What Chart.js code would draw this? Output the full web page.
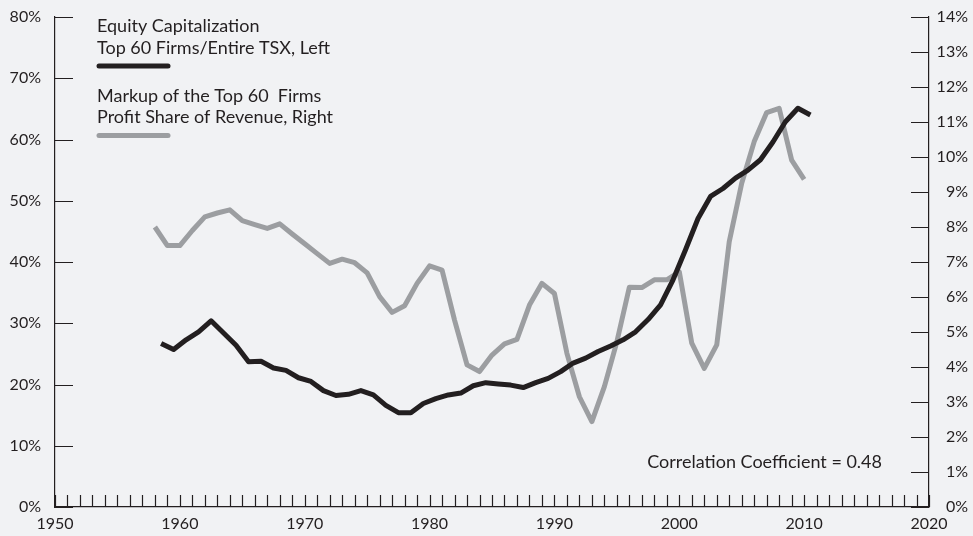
<!DOCTYPE html>
<html lang="en">
<head>
  <meta charset="UTF-8">
  <title>Equity Capitalization and Markup of the Top 60 Firms</title>
  <script src="https://cdn.jsdelivr.net/npm/chart.js"></script>
  <style>
    html, body { margin: 0; padding: 0; background: #f1f2f4; }
    #wrap { width: 973px; height: 536px; position: relative; }
  </style>
</head>
<body>
  <div id="wrap"><canvas id="chart"></canvas></div>

  <script>
    // years of the two series
    const years = [
      1958, 1959, 1960, 1961, 1962, 1963, 1964, 1965, 1966, 1967,
      1968, 1969, 1970, 1971, 1972, 1973, 1974, 1975, 1976, 1977,
      1978, 1979, 1980, 1981, 1982, 1983, 1984, 1985, 1986, 1987,
      1988, 1989, 1990, 1991, 1992, 1993, 1994, 1995, 1996, 1997,
      1998, 1999, 2000, 2001, 2002, 2003, 2004, 2005, 2006, 2007,
      2008, 2009, 2010
    ];

    // equity capitalization, top 60 firms / entire TSX (%), left axis
    const equityShare = [
      26.7, 25.7, 27.3, 28.6, 30.4, 28.4, 26.4, 23.7, 23.8, 22.7,
      22.3, 21.1, 20.5, 19.0, 18.2, 18.4, 19.0, 18.3, 16.6, 15.4,
      15.4, 16.9, 17.7, 18.3, 18.6, 19.8, 20.3, 20.1, 19.9, 19.5,
      20.3, 21.0, 22.1, 23.5, 24.3, 25.4, 26.3, 27.3, 28.6, 30.6,
      33.0, 37.1, 42.0, 47.1, 50.7, 52.0, 53.7, 55.0, 56.7, 59.6,
      62.9, 65.1, 64.0
    ];

    // markup of the top 60 firms, profit share of revenue (%), right axis
    const markup = [
      8.0, 7.47, 7.47, 7.9, 8.29, 8.4, 8.49, 8.18, 8.07, 7.96,
      8.09, 7.8, 7.52, 7.24, 6.96, 7.08, 6.98, 6.69, 6.01, 5.56,
      5.75, 6.39, 6.89, 6.77, 5.34, 4.06, 3.87, 4.34, 4.66, 4.79,
      5.77, 6.39, 6.1, 4.39, 3.15, 2.44, 3.44, 4.72, 6.28, 6.27,
      6.49, 6.49, 6.72, 4.68, 3.96, 4.63, 7.58, 9.25, 10.44, 11.27,
      11.39, 9.91, 9.36
    ];

    const equityLabel = ["Equity Capitalization", "Top 60 Firms/Entire TSX, Left"];
    const markupLabel = ["Markup of the Top 60  Firms", "Profit Share of Revenue, Right"];
    const note = "Correlation Coefficient = 0.48";

    const INK = "#231f20";
    const GREY = "#9c9ea1";
    const FONT = "Lato";

    // short ticks drawn inward from every axis
    const inwardTicks = {
      id: "inwardTicks",
      beforeDatasetsDraw(chart) {
        const { ctx, scales } = chart;
        ctx.save();
        ctx.strokeStyle = INK;
        ctx.lineWidth = 1.2;
        ctx.beginPath();
        scales.x.ticks.forEach(t => {
          const px = Math.round(scales.x.getPixelForValue(t.value)) + 0.5;
          ctx.moveTo(px, scales.x.top);
          ctx.lineTo(px, scales.x.top - 12);
        });
        scales.y.ticks.forEach(t => {
          const py = Math.round(scales.y.getPixelForValue(t.value)) + 0.5;
          ctx.moveTo(scales.y.right, py);
          ctx.lineTo(scales.y.right + 18, py);
        });
        scales.y2.ticks.forEach(t => {
          const py = Math.round(scales.y2.getPixelForValue(t.value)) + 0.5;
          ctx.moveTo(scales.y2.left, py);
          ctx.lineTo(scales.y2.left - 18, py);
        });
        ctx.stroke();
        ctx.restore();
      }
    };

    // legend block (two lines of text with a line sample under each) and the note
    const textBlocks = {
      id: "textBlocks",
      afterDraw(chart) {
        const { ctx, chartArea } = chart;
        const x0 = chartArea.left + 42;
        ctx.save();
        ctx.font = `18px ${FONT}`;
        ctx.fillStyle = INK;
        ctx.textBaseline = "alphabetic";
        ctx.textAlign = "left";
        let y = chartArea.top + 15;
        chart.data.datasets.forEach(ds => {
          ds.label.forEach(line => {
            ctx.fillText(line, x0, y);
            y += 21.5;
          });
          ctx.beginPath();
          ctx.lineCap = "round";
          ctx.lineWidth = 5;
          ctx.strokeStyle = ds.borderColor;
          const ly = y - 9;
          ctx.moveTo(x0 + 2, ly);
          ctx.lineTo(x0 + 71, ly);
          ctx.stroke();
          y += 26.5;
        });
        ctx.textAlign = "right";
        ctx.fillText(note, chartArea.right - 47, chartArea.bottom - 39);
        ctx.restore();
      }
    };

    // keep the tick label padding from pushing the plot area down
    const noEdgePad = s => { s.paddingTop = 8; s.paddingBottom = 8; };

    const ctx = document.getElementById("chart").getContext("2d");
    new Chart(ctx, {
      type: "line",
      data: {
        datasets: [
          {
            label: equityLabel,
            // annual values sit at mid-year
            data: years.map((yr, i) => ({ x: yr + 0.5, y: equityShare[i] })),
            yAxisID: "y",
            borderColor: INK,
            borderWidth: 5,
            borderJoinStyle: "round",
            pointRadius: 0,
            tension: 0,
            fill: false,
          },
          {
            label: markupLabel,
            data: years.map((yr, i) => ({ x: yr, y: markup[i] })),
            yAxisID: "y2",
            borderColor: GREY,
            borderWidth: 5,
            borderJoinStyle: "round",
            pointRadius: 0,
            tension: 0,
            fill: false,
          },
        ],
      },
      options: {
        responsive: true,
        maintainAspectRatio: false,
        animation: false,
        layout: { padding: { top: 17, left: 0, right: 5, bottom: 0 } },
        plugins: {
          legend: { display: false },
          title: { display: false },
          tooltip: { enabled: false },
        },
        scales: {
          x: {
            type: "linear",
            min: 1950,
            max: 2020,
            grid: { display: false, drawTicks: false },
            border: { display: true, color: INK, width: 1.2 },
            ticks: {
              stepSize: 1,
              maxTicksLimit: 100,
              autoSkip: false,
              maxRotation: 0,
              padding: 7,
              color: INK,
              font: { family: FONT, size: 16 },
              callback: v => (v % 10 === 0 ? String(v) : ""),
            },
            afterFit: s => { s.height = 29; },
          },
          y: {
            position: "left",
            min: 0,
            max: 80,
            grid: { display: false, drawTicks: false },
            border: { display: true, color: INK, width: 1.2 },
            ticks: {
              stepSize: 10,
              padding: 14,
              color: INK,
              font: { family: FONT, size: 16 },
              callback: v => v + "%",
            },
            afterFit: s => { s.width = 55; noEdgePad(s); },
          },
          y2: {
            position: "right",
            min: 0,
            max: 14,
            grid: { display: false, drawTicks: false },
            border: { display: true, color: INK, width: 1.2 },
            ticks: {
              stepSize: 1,
              padding: 4,
              crossAlign: "far",
              color: INK,
              font: { family: FONT, size: 16 },
              callback: v => v + "%",
            },
            afterFit: s => { s.width = 39; noEdgePad(s); },
          },
        },
      },
      plugins: [inwardTicks, textBlocks],
    });
  </script>
</body>
</html>
